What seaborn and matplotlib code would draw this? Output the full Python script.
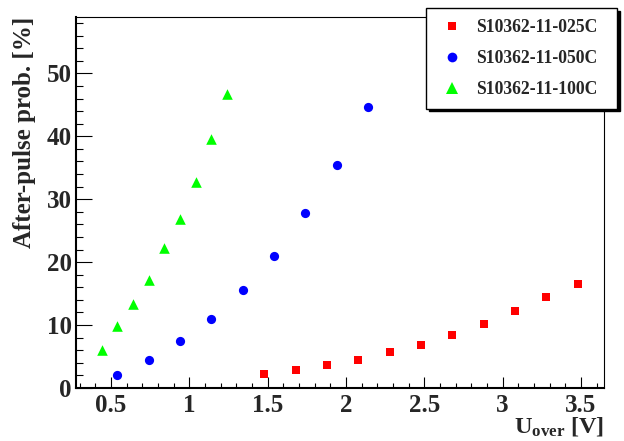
import matplotlib
matplotlib.use("Agg")
import matplotlib.pyplot as plt
from matplotlib.ticker import MultipleLocator
from matplotlib.lines import Line2D
import pandas as pd
import seaborn as sns

# Over-voltage [V] and after-pulse probability [%] per MPPC type
x_025 = [1.48, 1.68, 1.88, 2.08, 2.28, 2.48, 2.68, 2.88, 3.08, 3.28, 3.48]
y_025 = [2.3, 2.8, 3.7, 4.4, 5.7, 6.8, 8.5, 10.1, 12.2, 14.5, 16.6]

x_050 = [0.54, 0.74, 0.94, 1.14, 1.34, 1.54, 1.74, 1.94, 2.14]
y_050 = [2.1, 4.5, 7.5, 11.0, 15.6, 21.0, 27.8, 35.4, 44.7]

x_100 = [0.44, 0.54, 0.64, 0.74, 0.84, 0.94, 1.04, 1.14, 1.24]
y_100 = [6.1, 9.9, 13.3, 17.2, 22.2, 26.9, 32.7, 39.5, 46.7]

names = ["S10362-11-025C", "S10362-11-050C", "S10362-11-100C"]
colors = ["#ff0000", "#0000ff", "#00ff00"]
markers = ["s", "o", "^"]
sizes = [26, 44, 58]

df = pd.concat([
    pd.DataFrame({"U": x_025, "P": y_025, "type": names[0]}),
    pd.DataFrame({"U": x_050, "P": y_050, "type": names[1]}),
    pd.DataFrame({"U": x_100, "P": y_100, "type": names[2]}),
], ignore_index=True)

sns.set_theme(style="ticks")
plt.rcParams["font.family"] = ["Liberation Serif", "DejaVu Serif"]
plt.rcParams["font.weight"] = "bold"
plt.rcParams["mathtext.fontset"] = "custom"
plt.rcParams["mathtext.rm"] = "Liberation Serif:bold"
plt.rcParams["mathtext.it"] = "Liberation Serif:bold"
plt.rcParams["mathtext.bf"] = "Liberation Serif:bold"

fig = plt.figure(figsize=(6.24, 4.41), dpi=100)
ax = fig.add_axes([76 / 624, 1 - 388 / 441, 528 / 624, (388 - 16.7) / 441])

for name, col, mk, s in zip(names, colors, markers, sizes):
    sns.scatterplot(data=df[df["type"] == name], x="U", y="P", color=col,
                    marker=mk, s=s, linewidth=0, ax=ax, legend=False, zorder=3)

ax.set_xlim(0.277, 3.647)
ax.set_ylim(0, 59)

ax.xaxis.set_major_locator(MultipleLocator(0.5))
ax.xaxis.set_minor_locator(MultipleLocator(0.1))
ax.yaxis.set_major_locator(MultipleLocator(10))
ax.yaxis.set_minor_locator(MultipleLocator(2))
ax.xaxis.set_major_formatter(plt.FuncFormatter(lambda v, p: f"{v:g}"))

ax.tick_params(axis="x", which="major", direction="in", length=7.7, width=0.8,
               labelsize=18, pad=4, color="black", top=False)
ax.tick_params(axis="x", which="minor", direction="in", length=3.6, width=0.8,
               color="black", top=False)
ax.tick_params(axis="y", which="major", direction="in", length=11.3, width=0.8,
               labelsize=18, pad=3, color="black", right=False)
ax.tick_params(axis="y", which="minor", direction="in", length=5.3, width=0.8,
               color="black", right=False)
for lab in ax.get_xticklabels() + ax.get_yticklabels():
    lab.set_fontweight("bold")

for side in ["left", "bottom"]:
    ax.spines[side].set_linewidth(1.5)
for side in ["top", "right"]:
    ax.spines[side].set_linewidth(0.8)
for sp in ax.spines.values():
    sp.set_color("black")

ax.set_xlabel(r"$U_{over}$ [V]", fontsize=17.5, fontweight="bold", ha="right")
ax.xaxis.set_label_coords(1.0, -0.074)
ax.set_ylabel("After-pulse prob. [%]", fontsize=18, fontweight="bold", ha="right")
ax.yaxis.set_label_coords(-0.076, 1.0)

handles = [Line2D([], [], linestyle="none", marker=m, color=c, markersize=ms,
                  markeredgewidth=0)
           for m, c, ms in zip(markers, colors, [6, 7, 8])]
leg = fig.legend(handles, names, loc="upper left",
                 bbox_to_anchor=(426 / 624, 1 - 101.7 / 441, 191 / 624, 93.4 / 441),
                 mode="expand", ncol=1, frameon=True, fancybox=False,
                 shadow={"color": "black", "alpha": 1.0},
                 prop={"family": "Liberation Serif", "weight": "bold", "size": 12.7},
                 borderaxespad=0, borderpad=0.6, labelspacing=0.8,
                 handletextpad=0.55, handlelength=1.7)
leg.get_frame().set_edgecolor("black")
leg.get_frame().set_linewidth(1.0)
leg.get_frame().set_facecolor("white")

fig.savefig("out.png", dpi=100, facecolor="white")
